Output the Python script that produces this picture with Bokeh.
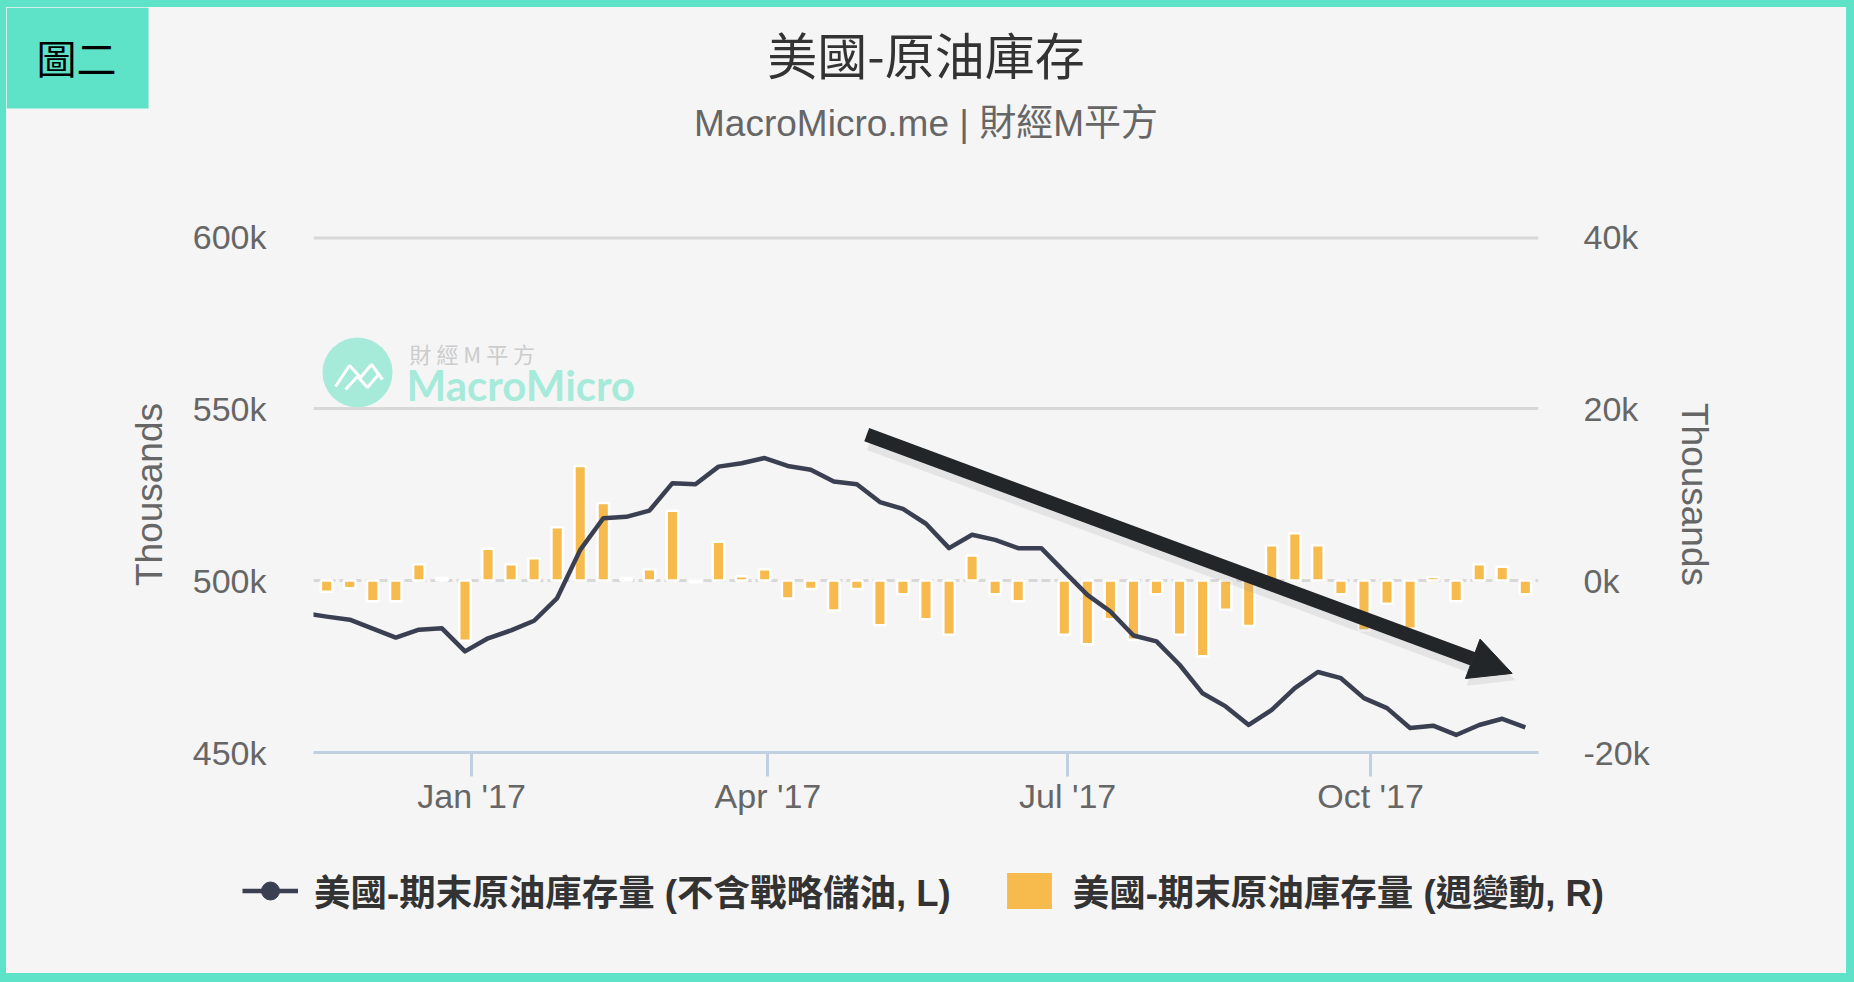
import pandas as pd
from bokeh.plotting import figure
from bokeh.layouts import column
from bokeh.models import (Range1d, LinearAxis, FixedTicker, Span, Label, Arrow, NormalHead,
                          Legend, LegendItem, ColumnDataSource)
from bokeh.embed import file_html
from bokeh.resources import INLINE

# ---------------- data (thousand barrels, shown in "k" of thousands) ----------------
week_ends = pd.date_range("2016-11-11", "2017-11-17", freq="7D")   # EIA week-ending Fridays

stock_k = [490.5,
           489.5, 488.6, 486.0, 483.4, 485.7, 486.1, 479.4,
           483.2, 485.5, 488.3, 494.9, 508.9, 518.1, 518.5, 520.3,
           528.3, 528.0, 533.1, 534.1, 535.6, 533.3, 532.2, 528.8,
           528.0, 522.8, 520.8, 516.5, 509.4, 513.3, 511.8, 509.4,
           509.4, 502.6, 495.8, 491.0, 484.0, 482.3, 475.5, 467.2,
           463.4, 458.0, 462.4, 468.7, 473.4, 471.6, 465.8, 462.9,
           457.1, 457.8, 455.1, 458.0, 459.8, 457.3]

change_k = [-1.3, -0.9, -2.4, -2.4, 1.9, 0.3, -7.0,
            3.7, 1.9, 2.6, 6.2, 13.3, 9.0, 0.3, 1.3,
            8.1, -0.2, 4.5, 0.5, 1.3, -2.1, -1.0, -3.5,
            -1.0, -5.2, -1.6, -4.5, -6.3, 2.9, -1.6, -2.4,
            float("nan"), -6.3, -7.4, -4.5, -6.9, -1.6, -6.3, -8.8,
            -3.4, -5.3, 4.1, 5.5, 4.1, -1.6, -5.8, -2.7,
            -5.6, 0.4, -2.4, 1.9, 1.6, -1.6]
change_dates = week_ends[1:]

x_tick_dates = ["2017-01-01", "2017-04-01", "2017-07-01", "2017-10-01"]
x_tick_labels = ["Jan '17", "Apr '17", "Jul '17", "Oct '17"]
left_ticks = [450, 500, 550, 600]
left_tick_labels = ["450k", "500k", "550k", "600k"]
right_ticks = [-20, 0, 20, 40]
right_tick_labels = ["-20k", "0k", "20k", "40k"]

TITLE = "美國-原油庫存"
SUBTITLE = "MacroMicro.me | 財經M平方"
BADGE = "圖二"
AXIS_TITLE = "Thousands"
LINE_NAME = "美國-期末原油庫存量 (不含戰略儲油, L)"
BAR_NAME = "美國-期末原油庫存量 (週變動, R)"

# trend-arrow annotation (date, left-axis value)
ARROW_FROM = ("2017-05-01", 542.4)
ARROW_TO = ("2017-11-13", 473.0)

# ---------------- style ----------------
BG = "#F5F5F5"
TEAL = "#5EE2C8"
LINE_C = "#3A3F51"
BAR_C = "#F6BA4D"
GRID_C = "#D8D8D8"
AXIS_C = "#C0D0E0"
TXT = "#666666"
LATIN = "Liberation Sans"
MIXED = "Liberation Sans, Noto Sans CJK TC"
CJK = "Noto Sans CJK TC"

PAD_L, PAD_T = 6, 7                        # teal page border (left / top)
W = 1840
HH, HM, HF = 199, 622, 145                 # header / main / legend strip heights
FL, FR, FT = 307, 308, 30
FH = 516
FB = HM - FT - FH
FW = W - FL - FR


def ms(d):
    return pd.Timestamp(d).value // 10**6


def strip(height):
    f = figure(width=W, height=height, x_range=Range1d(0, W), y_range=Range1d(0, height),
               output_backend="svg", toolbar_location=None, min_border=0,
               x_axis_location=None, y_axis_location=None, frame_align=False,
               background_fill_color=BG, border_fill_color=BG, outline_line_color=None)
    f.grid.grid_line_color = None
    return f


# ---------------- header strip ----------------
hd = strip(HH)
hd.quad(left=[0], right=[142], top=[HH], bottom=[HH - 101], fill_color=TEAL, line_color=None)
hd.add_layout(Label(x=70, y=HH - 49, text=BADGE, text_font=CJK, text_font_size="40px",
                    text_color="#000000", text_align="center", text_baseline="middle"))
hd.add_layout(Label(x=FL + FW / 2, y=HH - 45, text=TITLE, text_font=CJK,
                    text_font_size="50px", text_color="#333333",
                    text_align="center", text_baseline="middle"))
hd.add_layout(Label(x=FL + FW / 2, y=HH - 116, text=SUBTITLE, text_font=MIXED,
                    text_font_size="37px", text_color=TXT,
                    text_align="center", text_baseline="middle"))

# ---------------- main chart ----------------
X0, X1 = pd.Timestamp("2016-11-14"), pd.Timestamp("2017-11-21")

p = figure(width=W, height=HM, x_axis_type="datetime",
           x_range=Range1d(X0, X1), y_range=Range1d(450, 600),
           output_backend="svg", toolbar_location=None, frame_align=False,
           min_border_left=FL, min_border_right=FR, min_border_top=FT, min_border_bottom=FB,
           background_fill_color=BG, border_fill_color=BG, outline_line_color=None)
p.extra_y_ranges = {"right": Range1d(-20, 40)}

p.xgrid.grid_line_color = None
p.ygrid.ticker = FixedTicker(ticks=[550, 600])
p.ygrid.grid_line_color = GRID_C
p.ygrid.grid_line_width = 3
# top grid line sits on the frame edge: draw it wider so the visible half matches
p.add_layout(Span(location=600, dimension="width", line_color=GRID_C, line_width=6,
                  level="underlay"))
p.add_layout(Span(location=0, dimension="width", y_range_name="right", line_color=GRID_C,
                  line_width=3, line_dash="9 4", level="underlay"))

xa = p.xaxis[0]
xa.ticker = FixedTicker(ticks=[ms(d) for d in x_tick_dates])
xa.major_label_overrides = {ms(d): l for d, l in zip(x_tick_dates, x_tick_labels)}
xa.axis_line_color = AXIS_C
xa.axis_line_width = 3
xa.major_tick_line_color = AXIS_C
xa.major_tick_line_width = 3
xa.major_tick_out = 24
xa.major_tick_in = 0
xa.minor_tick_line_color = None
xa.major_label_text_font = LATIN
xa.major_label_text_font_size = "34px"
xa.major_label_text_color = TXT
xa.major_label_standoff = 0

ya = p.yaxis[0]
ya.ticker = FixedTicker(ticks=left_ticks)
ya.major_label_overrides = dict(zip(left_ticks, left_tick_labels))
ya.axis_label = AXIS_TITLE

yr = LinearAxis(y_range_name="right", ticker=FixedTicker(ticks=right_ticks),
                major_label_overrides=dict(zip(right_ticks, right_tick_labels)),
                axis_label=AXIS_TITLE)
p.add_layout(yr, "right")

for ax in (ya, yr):
    ax.axis_line_color = None
    ax.major_tick_line_color = None
    ax.minor_tick_line_color = None
    ax.major_label_text_font = LATIN
    ax.major_label_text_font_size = "34px"
    ax.major_label_text_color = TXT
    ax.axis_label_text_font = LATIN
    ax.axis_label_text_font_size = "37px"
    ax.axis_label_text_font_style = "normal"
    ax.axis_label_text_color = TXT
ya.major_label_standoff = 41
ya.axis_label_standoff = 20
yr.major_label_standoff = 39
yr.axis_label_standoff = 21


# watermark (decoration, placed by page pixels)
def fx(ox):
    cx = ox - PAD_L
    return ms(X0) + (cx - FL) / FW * (ms(X1) - ms(X0))


def fy(oy):
    cy = oy - PAD_T - HH
    return 450 + (FT + FH - cy) / FH * 150


p.scatter(x=[fx(357)], y=[fy(372)], size=70, marker="circle", fill_color="#A6EBDA",
          line_color=None, level="underlay")
p.line(x=[fx(335), fx(349), fx(360), fx(371), fx(382)],
       y=[fy(386), fy(365), fy(377), fy(364), fy(379)],
       line_color="white", line_width=3, level="underlay")
p.line(x=[fx(345), fx(357), fx(367), fx(378)],
       y=[fy(389), fy(376), fy(387), fy(374)],
       line_color="white", line_width=3, level="underlay")
p.add_layout(Label(x=406 - PAD_L - FL, y=FT + FH - (384 - PAD_T - HH),
                   x_units="screen", y_units="screen",
                   text="MacroMicro", text_font="Lato", text_font_style="bold",
                   text_font_size="42px", text_color="#A6EBDA", text_align="left",
                   text_baseline="middle", level="underlay"))
p.add_layout(Label(x=409 - PAD_L - FL, y=FT + FH - (352 - PAD_T - HH),
                   x_units="screen", y_units="screen",
                   text="財 經 M 平 方", text_font=CJK, text_font_size="22px",
                   text_color="#CCCCCC", text_align="left", text_baseline="middle",
                   level="underlay"))

src_bar = ColumnDataSource(dict(date=change_dates, chg=change_k))
p.vbar(x="date", top="chg", bottom=0, width=3.5 * 86400000, source=src_bar,
       y_range_name="right", fill_color=BAR_C, line_color="white", line_width=2.5)

src_line = ColumnDataSource(dict(date=week_ends, stock=stock_k))
p.line(x="date", y="stock", source=src_line, line_color=LINE_C, line_width=4.5,
       line_join="round")

p.add_layout(Arrow(end=NormalHead(size=44, fill_color="#888888", fill_alpha=0.15,
                                  line_color=None),
                   x_start=ms(ARROW_FROM[0]) + 86400000, y_start=ARROW_FROM[1] - 2.0,
                   x_end=ms(ARROW_TO[0]) + 86400000, y_end=ARROW_TO[1] - 2.0,
                   line_color="#888888", line_alpha=0.15, line_width=18))
p.add_layout(Arrow(end=NormalHead(size=42, fill_color="#222629", line_color="#222629",
                                  line_width=1),
                   x_start=ms(ARROW_FROM[0]), y_start=ARROW_FROM[1],
                   x_end=ms(ARROW_TO[0]), y_end=ARROW_TO[1],
                   line_color="#222629", line_width=14))

# ---------------- legend strip ----------------
ft = strip(HF)
NAN = float("nan")
lg_line = ft.line(x=[NAN, NAN], y=[NAN, NAN], line_color=LINE_C, line_width=4.5)
lg_dot = ft.scatter(x=[NAN], y=[NAN], marker="circle", size=22,
                    fill_color=LINE_C, line_color=LINE_C)
lg_bar = ft.vbar(x=[NAN], top=[NAN], width=1, fill_color=BAR_C, line_color=None)
legend = Legend(items=[LegendItem(label=LINE_NAME, renderers=[lg_line, lg_dot]),
                       LegendItem(label=BAR_NAME, renderers=[lg_bar])],
                orientation="horizontal", location=(236, HF - 89),
                label_text_font=MIXED, label_text_font_size="36.5px",
                label_text_font_style="bold", label_text_color="#333333",
                glyph_width=56, glyph_height=45, label_standoff=16, spacing=50,
                padding=0, margin=0, border_line_color=None, background_fill_alpha=0)
ft.add_layout(legend, "center")

page = column(hd, p, ft, spacing=0, styles={"background-color": BG})
html = file_html(page, INLINE)
css = ("<style>html, body { background-color: %s !important; margin: 0 !important; }"
       " body { padding: %dpx 0 0 %dpx !important; }</style>" % (TEAL, PAD_T, PAD_L))
cut = html.rfind("</head>")
if cut >= 0:
    html = html[:cut] + css + html[cut:]
open("out.html", "w").write(html)
